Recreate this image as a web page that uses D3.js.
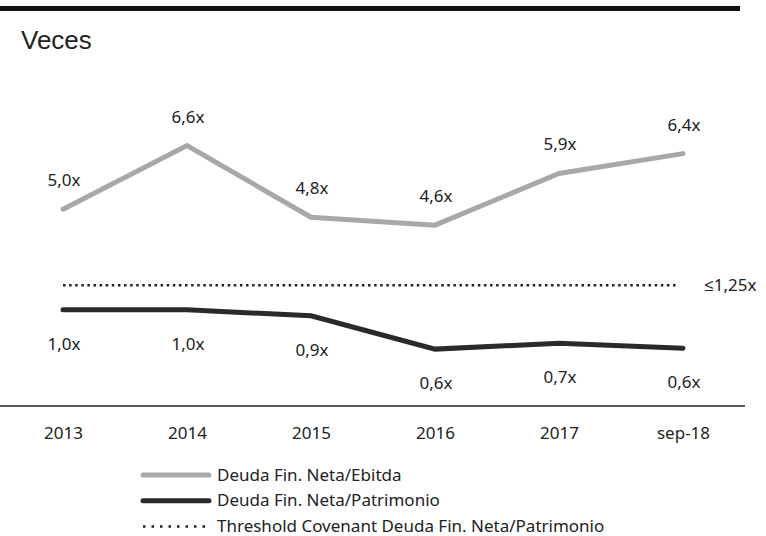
<!DOCTYPE html>
<html>
<head>
<meta charset="utf-8">
<script src="https://cdn.jsdelivr.net/npm/d3@7"></script>
<style>
  body { margin: 0; background: #fff; }
  text { font-family: "Noto Sans", "Open Sans", sans-serif; fill: #222; }
</style>
</head>
<body>
<svg id="chart" width="766" height="536"></svg>
<script>
// data
var periods = ['2013', '2014', '2015', '2016', '2017', 'sep-18'];
var ebitda = [5.0, 6.6, 4.8, 4.6, 5.9, 6.4];
var patrimonio = [1.0, 1.0, 0.94, 0.6, 0.66, 0.61];
var threshold = 1.25;
var seriesNames = ['Deuda Fin. Neta/Ebitda', 'Deuda Fin. Neta/Patrimonio', 'Threshold Covenant Deuda Fin. Neta/Patrimonio'];

var svg = d3.select('#chart');

var locale = d3.formatLocale({ decimal: ',', thousands: '.', grouping: [3], currency: ['', ''] });
var fmt = locale.format('.1f');

var x = d3.scalePoint()
    .domain(periods)
    .range([63, 683]);

// two value axes, both with zero on the baseline
var yLeft = d3.scaleLinear().domain([0, 8]).range([408, 90]);
var yRight = d3.scaleLinear().domain([0, 3.24]).range([408, 90]);

// top rule
svg.append('line')
    .attr('x1', 0).attr('x2', 740)
    .attr('y1', 8.5).attr('y2', 8.5)
    .attr('stroke', '#111')
    .attr('stroke-width', 5);

svg.append('text')
    .attr('x', 21).attr('y', 49)
    .style('font-family', '"Liberation Sans", Arial, sans-serif')
    .style('font-size', '26px')
    .text('Veces');

// x axis
var xAxis = svg.append('g')
    .attr('transform', 'translate(0,406)')
    .call(d3.axisBottom(x).tickSize(0).tickPadding(21));
xAxis.select('.domain')
    .attr('d', 'M0,0H745')
    .attr('stroke', '#222')
    .attr('stroke-width', 1.5);
xAxis.selectAll('text')
    .style('font-family', '"Noto Sans", sans-serif')
    .style('font-size', '17px')
    .attr('fill', '#222');

// threshold
svg.append('line')
    .attr('x1', x(periods[0])).attr('x2', x(periods[periods.length - 1]) - 4)
    .attr('y1', yRight(threshold)).attr('y2', yRight(threshold))
    .attr('stroke', '#222')
    .attr('stroke-width', 2.5)
    .attr('stroke-dasharray', '2.5,3.6');

svg.append('text')
    .attr('x', 704).attr('y', yRight(threshold) + 6)
    .style('font-size', '17px')
    .text('≤' + locale.format('.2f')(threshold) + 'x');

var lineLeft = d3.line()
    .x((d, i) => x(periods[i]))
    .y(d => yLeft(d));
var lineRight = d3.line()
    .x((d, i) => x(periods[i]))
    .y(d => yRight(d));

svg.append('path')
    .datum(ebitda)
    .attr('d', lineLeft)
    .attr('fill', 'none')
    .attr('stroke', '#a8a8a8')
    .attr('stroke-width', 5)
    .attr('stroke-linecap', 'round');

svg.append('path')
    .datum(patrimonio)
    .attr('d', lineRight)
    .attr('fill', 'none')
    .attr('stroke', '#2a2a2a')
    .attr('stroke-width', 5)
    .attr('stroke-linecap', 'round');

svg.append('g')
    .selectAll('text')
    .data(ebitda)
    .enter()
    .append('text')
    .attr('x', (d, i) => x(periods[i]) + 1)
    .attr('y', d => yLeft(d) - 23)
    .attr('text-anchor', 'middle')
    .style('font-size', '17px')
    .text(d => fmt(d) + 'x');

svg.append('g')
    .selectAll('text')
    .data(patrimonio)
    .enter()
    .append('text')
    .attr('x', (d, i) => x(periods[i]) + 1)
    .attr('y', d => yRight(d) + 40)
    .attr('text-anchor', 'middle')
    .style('font-size', '17px')
    .text(d => fmt(d) + 'x');

// legend
var legend = svg.append('g').attr('transform', 'translate(142,475)');
var legendStyles = [
    { stroke: '#a8a8a8', width: 5, dash: null },
    { stroke: '#2a2a2a', width: 5, dash: null },
    { stroke: '#222', width: 2.5, dash: '2.5,6' }
];
seriesNames.forEach((name, i) => {
    var row = legend.append('g').attr('transform', 'translate(0,' + (i * 25.8) + ')');
    row.append('line')
        .attr('x1', 1).attr('x2', 67)
        .attr('y1', 0).attr('y2', 0)
        .attr('stroke', legendStyles[i].stroke)
        .attr('stroke-width', legendStyles[i].width)
        .attr('stroke-linecap', legendStyles[i].dash ? 'butt' : 'round')
        .attr('stroke-dasharray', legendStyles[i].dash);
    row.append('text')
        .attr('x', 75).attr('y', 5.5)
        .style('font-size', '17px')
        .text(name);
});
</script>
</body>
</html>
